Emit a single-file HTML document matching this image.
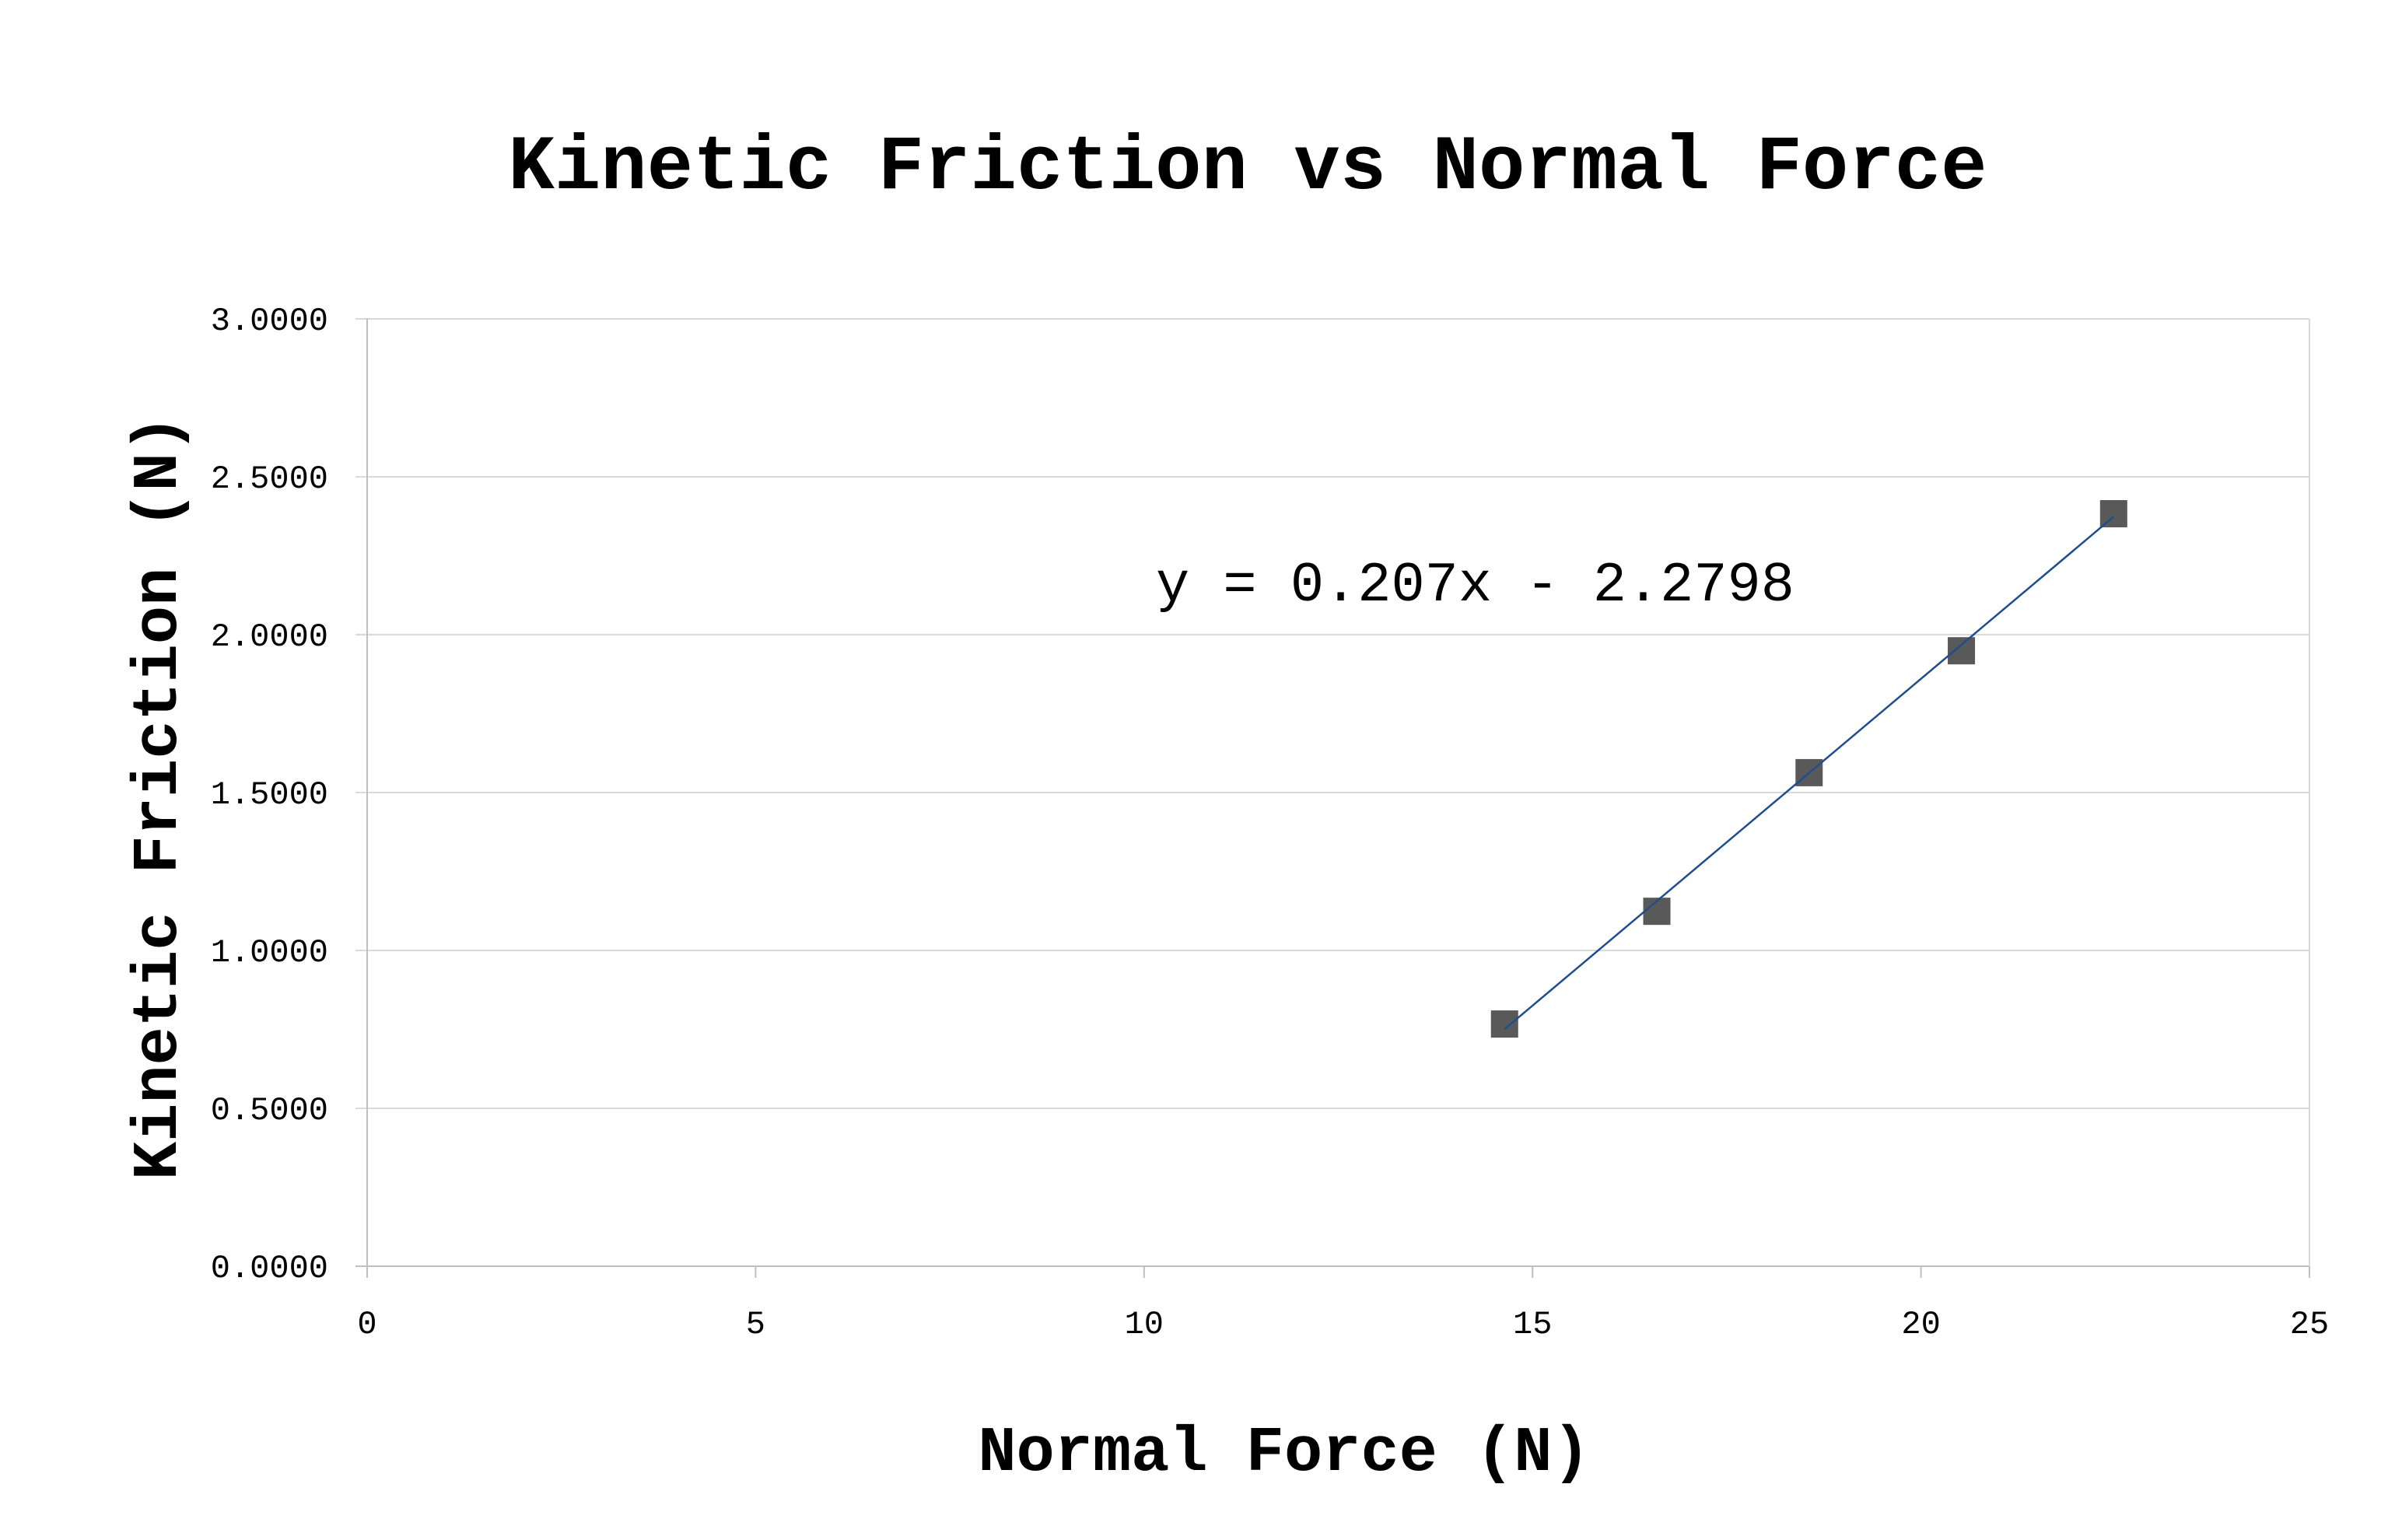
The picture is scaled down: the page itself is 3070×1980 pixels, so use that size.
<!DOCTYPE html>
<html><head><meta charset="utf-8"><style>
html,body{margin:0;padding:0;background:#fff;}
svg{display:block;}
text{font-family:"Liberation Mono","DejaVu Sans Mono",monospace;fill:#000;}
</style></head><body>
<svg id="chart" width="3070" height="1980" viewBox="0 0 3070 1980">
<text x="1604" y="242" text-anchor="middle" font-size="99" font-weight="bold">Kinetic Friction vs Normal Force</text>
<g id="grid"></g>
<g id="axes"></g>
<g id="marks"></g>
<text x="1486" y="772" font-size="72">y = 0.207x - 2.2798</text>
<text x="1651" y="1890" text-anchor="middle" font-size="82" font-weight="bold">Normal Force (N)</text>
<text transform="translate(226,1025) rotate(-90)" text-anchor="middle" font-size="82" font-weight="bold">Kinetic Friction (N)</text>
</svg>
<script>
const xValues = [14.64, 16.60, 18.56, 20.52, 22.48];
const yValues = [0.767, 1.124, 1.563, 1.949, 2.383];
const xTicks = [0, 5, 10, 15, 20, 25];
const yTicks = [0, 0.5, 1.0, 1.5, 2.0, 2.5, 3.0];
const slope = 0.207;
const intercept = -2.2798;

const L=472,R=2969,T=410,B=1628;
const xMax=25,yMax=3;
function sx(v){return L+(v/xMax)*(R-L);}
function sy(v){return B-(v/yMax)*(B-T);}
const NS="http://www.w3.org/2000/svg";
function mk(tag,attrs,parent){const e=document.createElementNS(NS,tag);for(const k in attrs)e.setAttribute(k,attrs[k]);parent.appendChild(e);return e;}
const grid=document.getElementById('grid'),axes=document.getElementById('axes'),marks=document.getElementById('marks');

yTicks.forEach(v=>{
  const y=sy(v);
  const g=mk('line',{x1:L-15,x2:R,y1:y,y2:y,stroke:v===0?'#bfbfbf':'#d9d9d9','stroke-width':2},grid);
  
  
  const t=mk('text',{x:L-50,y:y+14,'text-anchor':'end','font-size':42},axes);
  t.textContent=v.toFixed(4);
  
  
});
xTicks.forEach(v=>{
  const x=sx(v);
  const tk=mk('line',{x1:x,x2:x,y1:B,y2:B+15,stroke:'#bfbfbf','stroke-width':2},axes);
  
  
  const t=mk('text',{x:x,y:B+86,'text-anchor':'middle','font-size':42},axes);
  t.textContent=String(v);
  
  
});
const ya=mk('line',{x1:L,x2:L,y1:T,y2:B,stroke:'#bfbfbf','stroke-width':2},axes);


const rb=mk('line',{x1:R,x2:R,y1:T,y2:B,stroke:'#d9d9d9','stroke-width':2},axes);



const x0=Math.min(...xValues),x1=Math.max(...xValues);
const tl=mk('line',{x1:sx(x0),y1:sy(slope*x0+intercept),x2:sx(x1),y2:sy(slope*x1+intercept),stroke:'#1f4e8c','stroke-width':2.5},marks);



const S=35;
xValues.forEach((xv,i)=>{
  const r=mk('rect',{x:sx(xv)-S/2,y:sy(yValues[i])-S/2,width:S,height:S,fill:'#595959'},marks);
  
  
});
marks.appendChild(tl);
</script>
</body></html>
